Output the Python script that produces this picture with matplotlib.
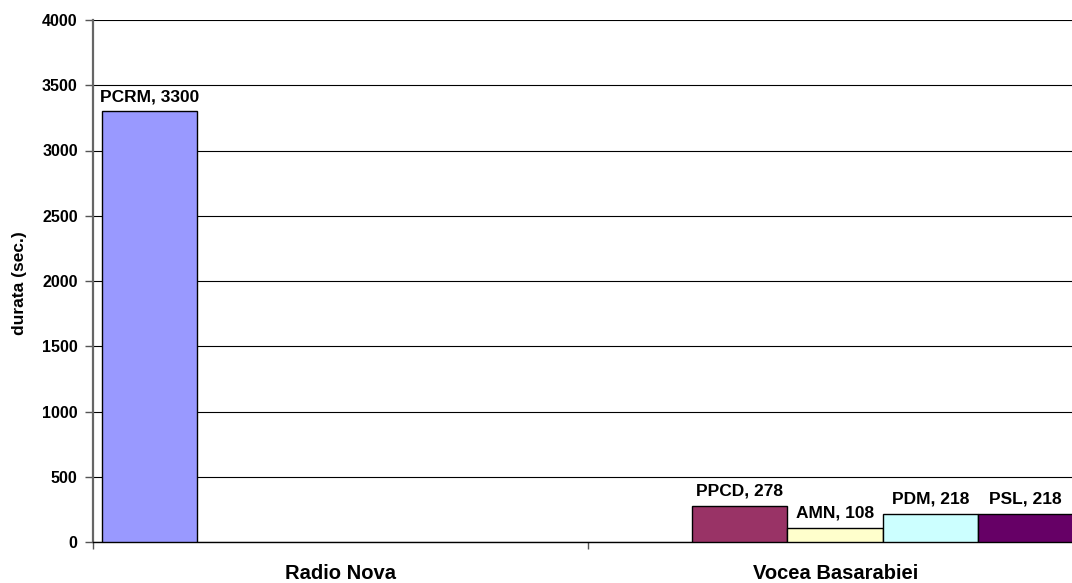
import numpy as np
import matplotlib.pyplot as plt

categories = ['Radio Nova', 'Vocea Basarabiei']
series = ['PCRM', 'PPCD', 'AMN', 'PDM', 'PSL']
values = [
    [3300, 0],
    [0, 278],
    [0, 108],
    [0, 218],
    [0, 218],
]
colors = ['#9999FF', '#993366', '#FFFFCC', '#CCFFFF', '#660066']

plt.rcParams['font.family'] = ['Liberation Sans', 'DejaVu Sans']
plt.rcParams['font.weight'] = 'bold'

W, H = 1072, 583
fig = plt.figure(figsize=(W / 100, H / 100), dpi=100)
# axes runs a bit past the right edge of the picture, as in the original
ax = fig.add_axes([93 / W, (H - 542) / H, 990 / W, 522 / H])

bar_w = 0.1925
gap = 0.018
x = np.arange(len(categories))
for i, (name, vals, c) in enumerate(zip(series, values, colors)):
    lefts = x + gap + i * bar_w
    for xl, v in zip(lefts, vals):
        if v == 0:
            continue
        ax.bar(xl, v, width=bar_w, align='edge', color=c, edgecolor='black',
               linewidth=1.0, zorder=3)
        ax.annotate(f'{name}, {v}', (xl + bar_w / 2, v), xytext=(0, 5),
                    textcoords='offset points', ha='center', va='bottom',
                    fontsize=12.5, fontweight='bold')

ax.set_yticks(np.arange(0, 4001, 500))
ax.yaxis.grid(True, color='black', linewidth=0.8, zorder=0)
ax.set_axisbelow(True)

ax.set_xticks([0, 1, 2])
ax.set_xticklabels([])
ax.set_xticks(x + 0.5, minor=True)
ax.set_xticklabels(categories, minor=True, fontsize=14.5, fontweight='bold')
ax.tick_params(axis='x', which='minor', length=0, pad=16)
ax.tick_params(axis='x', which='major', length=5, width=1, color='#555555')
ax.tick_params(axis='y', length=6, width=1, pad=5, labelsize=11.5, color='#555555')
for lbl in ax.get_yticklabels():
    lbl.set_fontweight('bold')
ax.set_xlim(0, 2)
ax.set_ylim(0, 4000)

for s in ['top', 'right']:
    ax.spines[s].set_visible(False)
ax.spines['left'].set_color('#666666')
ax.spines['left'].set_linewidth(1.6)
ax.spines['bottom'].set_color('black')
ax.spines['bottom'].set_linewidth(1.0)

fig.text(20 / W, 1 - 283 / H, 'durata (sec.)', rotation=90, ha='center', va='center',
         fontsize=12.5, fontweight='bold')

fig.savefig('out.png', dpi=100)
